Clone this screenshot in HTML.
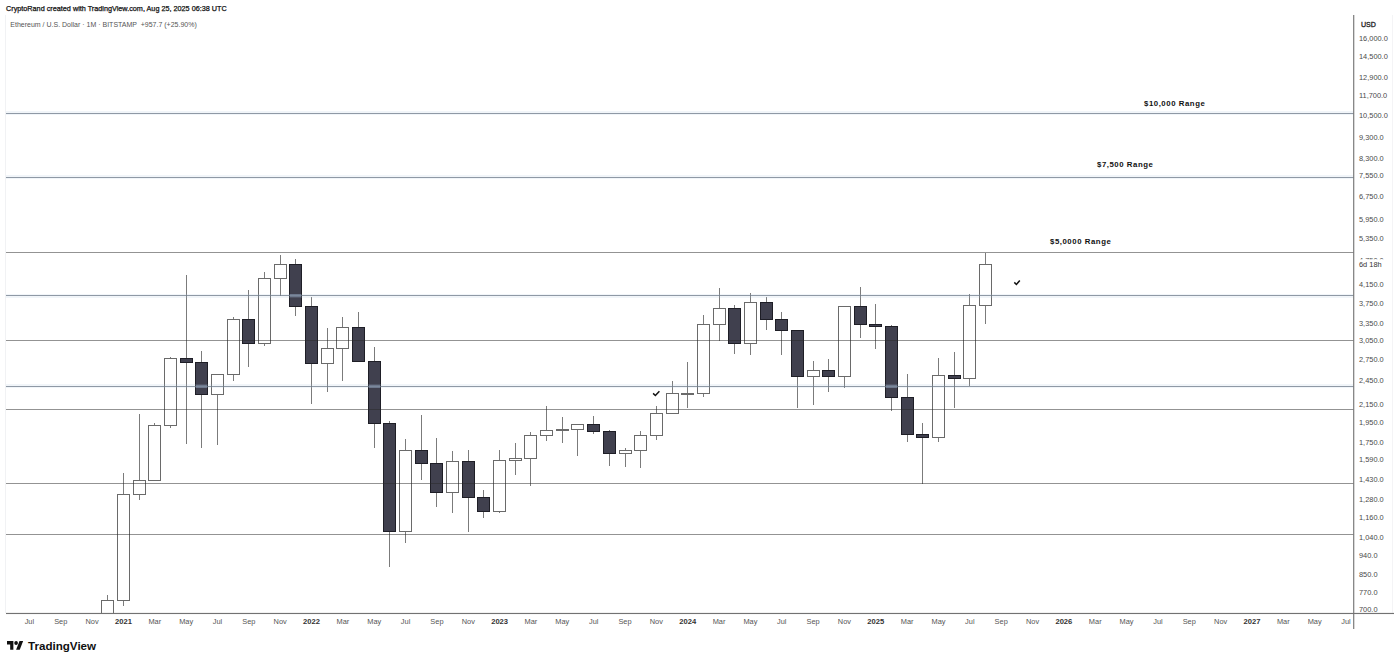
<!DOCTYPE html>
<html><head><meta charset="utf-8"><style>
html,body{margin:0;padding:0;background:#fff;width:1400px;height:663px;overflow:hidden;position:relative}
text{font-family:"Liberation Sans",Arial,sans-serif}
.pl{font-size:7.4px;fill:#4a4a4a}
.cd{fill:#333}
.usd{font-size:7.1px;fill:#222;stroke:#222;stroke-width:0.3px}
.tm{font-size:7.4px;fill:#555;text-anchor:middle}
.ty{font-size:7.6px;fill:#333;text-anchor:middle;font-weight:bold}
.rg{font-size:7.8px;fill:#111;font-weight:bold;letter-spacing:0.55px}
.logo{font-size:11.6px;fill:#111;font-weight:bold}
.hd{font-size:7.25px;fill:#111;stroke:#111;stroke-width:0.25px}
.sub{font-size:7.0px;fill:#555;white-space:pre}
</style></head><body>
<svg width="1400" height="663" viewBox="0 0 1400 663" style="position:absolute;left:0;top:0">
<rect x="5" y="15" width="1" height="598" fill="#f1f2f4"/>
<rect x="1392" y="15" width="1" height="598" fill="#f4f4f6"/>
<defs><clipPath id="cc"><rect x="6" y="15" width="1348" height="598"/></clipPath></defs>
<g shape-rendering="crispEdges" clip-path="url(#cc)">
<line x1="107.5" y1="594.96" x2="107.5" y2="658.89" stroke="#7b7b7b" stroke-width="1"/>
<rect x="101.5" y="600.09" width="12" height="33.32" fill="#fff" stroke="#6a6a6a" stroke-width="1"/>
<line x1="123.5" y1="473.47" x2="123.5" y2="605.88" stroke="#7b7b7b" stroke-width="1"/>
<rect x="117.5" y="494.84" width="12" height="105.25" fill="#fff" stroke="#6a6a6a" stroke-width="1"/>
<line x1="139.5" y1="414.19" x2="139.5" y2="500.06" stroke="#7b7b7b" stroke-width="1"/>
<rect x="133.5" y="480.79" width="12" height="14.05" fill="#fff" stroke="#6a6a6a" stroke-width="1"/>
<line x1="154.5" y1="422.52" x2="154.5" y2="480.79" stroke="#7b7b7b" stroke-width="1"/>
<rect x="148.5" y="425.54" width="12" height="55.25" fill="#fff" stroke="#6a6a6a" stroke-width="1"/>
<line x1="170.5" y1="356.69" x2="170.5" y2="428.22" stroke="#7b7b7b" stroke-width="1"/>
<rect x="164.5" y="358.26" width="12" height="67.28" fill="#fff" stroke="#6a6a6a" stroke-width="1"/>
<line x1="186.5" y1="274.84" x2="186.5" y2="444.37" stroke="#7b7b7b" stroke-width="1"/>
<rect x="180.5" y="358.26" width="12" height="4.46" fill="#40404e" stroke="#1e1e26" stroke-width="1"/>
<line x1="201.5" y1="350.72" x2="201.5" y2="447.56" stroke="#7b7b7b" stroke-width="1"/>
<rect x="195.5" y="362.72" width="12" height="31.66" fill="#40404e" stroke="#1e1e26" stroke-width="1"/>
<line x1="217.5" y1="373.56" x2="217.5" y2="445.42" stroke="#7b7b7b" stroke-width="1"/>
<rect x="211.5" y="374.93" width="12" height="19.46" fill="#fff" stroke="#6a6a6a" stroke-width="1"/>
<line x1="233.5" y1="317.34" x2="233.5" y2="380.86" stroke="#7b7b7b" stroke-width="1"/>
<rect x="227.5" y="319.46" width="12" height="55.47" fill="#fff" stroke="#6a6a6a" stroke-width="1"/>
<line x1="248.5" y1="290.04" x2="248.5" y2="366.54" stroke="#7b7b7b" stroke-width="1"/>
<rect x="242.5" y="319.46" width="12" height="24.45" fill="#40404e" stroke="#1e1e26" stroke-width="1"/>
<line x1="264.5" y1="271.53" x2="264.5" y2="345.73" stroke="#7b7b7b" stroke-width="1"/>
<rect x="258.5" y="278.71" width="12" height="65.19" fill="#fff" stroke="#6a6a6a" stroke-width="1"/>
<line x1="280.5" y1="255.48" x2="280.5" y2="295.55" stroke="#7b7b7b" stroke-width="1"/>
<rect x="274.5" y="264.71" width="12" height="14" fill="#fff" stroke="#6a6a6a" stroke-width="1"/>
<line x1="295.5" y1="259" x2="295.5" y2="315.77" stroke="#7b7b7b" stroke-width="1"/>
<rect x="289.5" y="264.71" width="12" height="41.91" fill="#40404e" stroke="#1e1e26" stroke-width="1"/>
<line x1="311.5" y1="296.96" x2="311.5" y2="403.68" stroke="#7b7b7b" stroke-width="1"/>
<rect x="305.5" y="306.62" width="12" height="57.33" fill="#40404e" stroke="#1e1e26" stroke-width="1"/>
<line x1="327.5" y1="327.89" x2="327.5" y2="392.23" stroke="#7b7b7b" stroke-width="1"/>
<rect x="321.5" y="348.83" width="12" height="15.11" fill="#fff" stroke="#6a6a6a" stroke-width="1"/>
<line x1="342.5" y1="316.76" x2="342.5" y2="380.64" stroke="#7b7b7b" stroke-width="1"/>
<rect x="336.5" y="327.62" width="12" height="21.22" fill="#fff" stroke="#6a6a6a" stroke-width="1"/>
<line x1="358.5" y1="311.64" x2="358.5" y2="362.45" stroke="#7b7b7b" stroke-width="1"/>
<rect x="352.5" y="327.62" width="12" height="33.7" fill="#40404e" stroke="#1e1e26" stroke-width="1"/>
<line x1="374.5" y1="346.66" x2="374.5" y2="447.88" stroke="#7b7b7b" stroke-width="1"/>
<rect x="368.5" y="361.31" width="12" height="62.05" fill="#40404e" stroke="#1e1e26" stroke-width="1"/>
<line x1="389.5" y1="420.66" x2="389.5" y2="567.11" stroke="#7b7b7b" stroke-width="1"/>
<rect x="383.5" y="423.36" width="12" height="108.18" fill="#40404e" stroke="#1e1e26" stroke-width="1"/>
<line x1="405.5" y1="438.65" x2="405.5" y2="542.94" stroke="#7b7b7b" stroke-width="1"/>
<rect x="399.5" y="450.04" width="12" height="81.5" fill="#fff" stroke="#6a6a6a" stroke-width="1"/>
<line x1="421.5" y1="414.82" x2="421.5" y2="479.63" stroke="#7b7b7b" stroke-width="1"/>
<rect x="415.5" y="450.04" width="12" height="13.67" fill="#40404e" stroke="#1e1e26" stroke-width="1"/>
<line x1="436.5" y1="438.14" x2="436.5" y2="506.91" stroke="#7b7b7b" stroke-width="1"/>
<rect x="430.5" y="463.71" width="12" height="28.5" fill="#40404e" stroke="#1e1e26" stroke-width="1"/>
<line x1="452.5" y1="451.35" x2="452.5" y2="512.65" stroke="#7b7b7b" stroke-width="1"/>
<rect x="446.5" y="461.96" width="12" height="30.26" fill="#fff" stroke="#6a6a6a" stroke-width="1"/>
<line x1="468.5" y1="450.04" x2="468.5" y2="531.54" stroke="#7b7b7b" stroke-width="1"/>
<rect x="462.5" y="461.96" width="12" height="35.12" fill="#40404e" stroke="#1e1e26" stroke-width="1"/>
<line x1="483.5" y1="489.63" x2="483.5" y2="518.1" stroke="#7b7b7b" stroke-width="1"/>
<rect x="477.5" y="497.08" width="12" height="14.5" fill="#40404e" stroke="#1e1e26" stroke-width="1"/>
<line x1="499.5" y1="449.61" x2="499.5" y2="512.65" stroke="#7b7b7b" stroke-width="1"/>
<rect x="493.5" y="460.34" width="12" height="51.24" fill="#fff" stroke="#6a6a6a" stroke-width="1"/>
<line x1="515.5" y1="442.89" x2="515.5" y2="474.71" stroke="#7b7b7b" stroke-width="1"/>
<rect x="509.5" y="458.05" width="12" height="2.29" fill="#fff" stroke="#6a6a6a" stroke-width="1"/>
<line x1="530.5" y1="431.63" x2="530.5" y2="486.28" stroke="#7b7b7b" stroke-width="1"/>
<rect x="524.5" y="435.01" width="12" height="23.04" fill="#fff" stroke="#6a6a6a" stroke-width="1"/>
<line x1="546.5" y1="405.98" x2="546.5" y2="440.71" stroke="#7b7b7b" stroke-width="1"/>
<rect x="540.5" y="430.16" width="12" height="4.85" fill="#fff" stroke="#6a6a6a" stroke-width="1"/>
<line x1="562.5" y1="416.53" x2="562.5" y2="443.31" stroke="#7b7b7b" stroke-width="1"/>
<rect x="556.5" y="429.68" width="12" height="1" fill="#fff" stroke="#6a6a6a" stroke-width="1"/>
<line x1="577.5" y1="423.93" x2="577.5" y2="455.9" stroke="#7b7b7b" stroke-width="1"/>
<rect x="571.5" y="424.12" width="12" height="5.56" fill="#fff" stroke="#6a6a6a" stroke-width="1"/>
<line x1="593.5" y1="415.63" x2="593.5" y2="434.31" stroke="#7b7b7b" stroke-width="1"/>
<rect x="587.5" y="424.12" width="12" height="7.52" fill="#40404e" stroke="#1e1e26" stroke-width="1"/>
<line x1="609.5" y1="429.68" x2="609.5" y2="465.6" stroke="#7b7b7b" stroke-width="1"/>
<rect x="603.5" y="431.63" width="12" height="21.93" fill="#40404e" stroke="#1e1e26" stroke-width="1"/>
<line x1="625.5" y1="447.56" x2="625.5" y2="466.55" stroke="#7b7b7b" stroke-width="1"/>
<rect x="619.5" y="450.7" width="12" height="2.86" fill="#fff" stroke="#6a6a6a" stroke-width="1"/>
<line x1="640.5" y1="430.65" x2="640.5" y2="467.98" stroke="#7b7b7b" stroke-width="1"/>
<rect x="634.5" y="435.61" width="12" height="15.09" fill="#fff" stroke="#6a6a6a" stroke-width="1"/>
<line x1="656.5" y1="406.41" x2="656.5" y2="439.68" stroke="#7b7b7b" stroke-width="1"/>
<rect x="650.5" y="413.39" width="12" height="22.22" fill="#fff" stroke="#6a6a6a" stroke-width="1"/>
<line x1="672.5" y1="381.23" x2="672.5" y2="414.28" stroke="#7b7b7b" stroke-width="1"/>
<rect x="666.5" y="393.83" width="12" height="19.57" fill="#fff" stroke="#6a6a6a" stroke-width="1"/>
<line x1="687.5" y1="362.19" x2="687.5" y2="408.13" stroke="#7b7b7b" stroke-width="1"/>
<rect x="681.5" y="393.75" width="12" height="1" fill="#fff" stroke="#6a6a6a" stroke-width="1"/>
<line x1="703.5" y1="315.4" x2="703.5" y2="396.81" stroke="#7b7b7b" stroke-width="1"/>
<rect x="697.5" y="324.31" width="12" height="69.44" fill="#fff" stroke="#6a6a6a" stroke-width="1"/>
<line x1="719.5" y1="288.14" x2="719.5" y2="340.53" stroke="#7b7b7b" stroke-width="1"/>
<rect x="713.5" y="308.36" width="12" height="15.95" fill="#fff" stroke="#6a6a6a" stroke-width="1"/>
<line x1="734.5" y1="304.84" x2="734.5" y2="353.52" stroke="#7b7b7b" stroke-width="1"/>
<rect x="728.5" y="308.36" width="12" height="34.99" fill="#40404e" stroke="#1e1e26" stroke-width="1"/>
<line x1="750.5" y1="292.68" x2="750.5" y2="355.32" stroke="#7b7b7b" stroke-width="1"/>
<rect x="744.5" y="302.69" width="12" height="40.66" fill="#fff" stroke="#6a6a6a" stroke-width="1"/>
<line x1="766.5" y1="296.68" x2="766.5" y2="330.48" stroke="#7b7b7b" stroke-width="1"/>
<rect x="760.5" y="302.69" width="12" height="16.45" fill="#40404e" stroke="#1e1e26" stroke-width="1"/>
<line x1="781.5" y1="312.31" x2="781.5" y2="355.32" stroke="#7b7b7b" stroke-width="1"/>
<rect x="775.5" y="319.14" width="12" height="11.17" fill="#40404e" stroke="#1e1e26" stroke-width="1"/>
<line x1="797.5" y1="329.86" x2="797.5" y2="407.61" stroke="#7b7b7b" stroke-width="1"/>
<rect x="791.5" y="330.31" width="12" height="45.85" fill="#40404e" stroke="#1e1e26" stroke-width="1"/>
<line x1="813.5" y1="361.38" x2="813.5" y2="405.04" stroke="#7b7b7b" stroke-width="1"/>
<rect x="807.5" y="370.02" width="12" height="6.14" fill="#fff" stroke="#6a6a6a" stroke-width="1"/>
<line x1="828.5" y1="359.12" x2="828.5" y2="391.52" stroke="#7b7b7b" stroke-width="1"/>
<rect x="822.5" y="370.02" width="12" height="6.07" fill="#40404e" stroke="#1e1e26" stroke-width="1"/>
<line x1="844.5" y1="305.63" x2="844.5" y2="387.69" stroke="#7b7b7b" stroke-width="1"/>
<rect x="838.5" y="306.12" width="12" height="69.96" fill="#fff" stroke="#6a6a6a" stroke-width="1"/>
<line x1="860.5" y1="287.34" x2="860.5" y2="337.92" stroke="#7b7b7b" stroke-width="1"/>
<rect x="854.5" y="306.12" width="12" height="18.62" fill="#40404e" stroke="#1e1e26" stroke-width="1"/>
<line x1="875.5" y1="303.91" x2="875.5" y2="349.46" stroke="#7b7b7b" stroke-width="1"/>
<rect x="869.5" y="324.75" width="12" height="1.76" fill="#40404e" stroke="#1e1e26" stroke-width="1"/>
<line x1="891.5" y1="325.4" x2="891.5" y2="410.74" stroke="#7b7b7b" stroke-width="1"/>
<rect x="885.5" y="326.51" width="12" height="71.04" fill="#40404e" stroke="#1e1e26" stroke-width="1"/>
<line x1="907.5" y1="373.56" x2="907.5" y2="441.75" stroke="#7b7b7b" stroke-width="1"/>
<rect x="901.5" y="397.54" width="12" height="36.97" fill="#40404e" stroke="#1e1e26" stroke-width="1"/>
<line x1="922.5" y1="422.71" x2="922.5" y2="484.3" stroke="#7b7b7b" stroke-width="1"/>
<rect x="916.5" y="434.51" width="12" height="3.23" fill="#40404e" stroke="#1e1e26" stroke-width="1"/>
<line x1="938.5" y1="358.46" x2="938.5" y2="441.75" stroke="#7b7b7b" stroke-width="1"/>
<rect x="932.5" y="375" width="12" height="62.74" fill="#fff" stroke="#6a6a6a" stroke-width="1"/>
<line x1="954.5" y1="351.99" x2="954.5" y2="407.69" stroke="#7b7b7b" stroke-width="1"/>
<rect x="948.5" y="375" width="12" height="3.2" fill="#40404e" stroke="#1e1e26" stroke-width="1"/>
<line x1="969.5" y1="294.16" x2="969.5" y2="386.15" stroke="#7b7b7b" stroke-width="1"/>
<rect x="963.5" y="305.77" width="12" height="72.42" fill="#fff" stroke="#6a6a6a" stroke-width="1"/>
<line x1="985.5" y1="252.51" x2="985.5" y2="323.71" stroke="#7b7b7b" stroke-width="1"/>
<rect x="979.5" y="264.31" width="12" height="41.46" fill="#fff" stroke="#6a6a6a" stroke-width="1"/>
<rect x="6" y="111" width="1348" height="4" fill="rgba(165,190,215,0.16)"/>
<rect x="6" y="112.5" width="1348" height="1" fill="rgba(110,122,136,0.75)"/>
<rect x="6" y="175" width="1348" height="4" fill="rgba(165,190,215,0.16)"/>
<rect x="6" y="176.5" width="1348" height="1" fill="rgba(110,122,136,0.75)"/>
<rect x="6" y="251.5" width="1348" height="1" fill="rgba(40,40,40,0.5)"/>
<rect x="6" y="293.5" width="1348" height="4" fill="rgba(165,190,215,0.16)"/>
<rect x="6" y="295" width="1348" height="1" fill="rgba(110,122,136,0.75)"/>
<rect x="6" y="339.5" width="1348" height="1" fill="rgba(40,40,40,0.5)"/>
<rect x="6" y="384" width="1348" height="4" fill="rgba(165,190,215,0.16)"/>
<rect x="6" y="385.5" width="1348" height="1" fill="rgba(110,122,136,0.75)"/>
<rect x="6" y="409" width="1348" height="1" fill="rgba(40,40,40,0.5)"/>
<rect x="6" y="482.5" width="1348" height="1" fill="rgba(40,40,40,0.5)"/>
<rect x="6" y="533.5" width="1348" height="1" fill="rgba(40,40,40,0.5)"/>
<rect x="290" y="294" width="11" height="3" fill="rgba(150,170,195,0.42)"/>
<rect x="196" y="384.5" width="11" height="3" fill="rgba(150,170,195,0.42)"/>
<rect x="369" y="384.5" width="11" height="3" fill="rgba(150,170,195,0.42)"/>
<rect x="886" y="384.5" width="11" height="3" fill="rgba(150,170,195,0.42)"/>
</g>
<rect x="1353.1" y="15" width="1.2" height="614" fill="#7c7c7c"/>
<rect x="6" y="612.9" width="1388" height="1.15" fill="#727272"/>
<text x="1361" y="27.3" class="usd">USD</text>
<text x="1359" y="41" class="pl">16,000.0</text>
<text x="1359" y="58.97" class="pl">14,500.0</text>
<text x="1359" y="80.3" class="pl">12,900.0</text>
<text x="1359" y="98.12" class="pl">11,700.0</text>
<text x="1359" y="117.87" class="pl">10,500.0</text>
<text x="1359" y="140.02" class="pl">9,300.0</text>
<text x="1359" y="160.78" class="pl">8,300.0</text>
<text x="1359" y="178.07" class="pl">7,550.0</text>
<text x="1359" y="198.51" class="pl">6,750.0</text>
<text x="1359" y="221.53" class="pl">5,950.0</text>
<text x="1359" y="240.93" class="pl">5,350.0</text>
<text x="1359" y="262.64" class="pl">4,750.0</text>
<text x="1359" y="287.28" class="pl">4,150.0</text>
<text x="1359" y="305.78" class="pl">3,750.0</text>
<text x="1359" y="326.36" class="pl">3,350.0</text>
<text x="1359" y="343.48" class="pl">3,050.0</text>
<text x="1359" y="362.38" class="pl">2,750.0</text>
<text x="1359" y="383.46" class="pl">2,450.0</text>
<text x="1359" y="407.3" class="pl">2,150.0</text>
<text x="1359" y="425.12" class="pl">1,950.0</text>
<text x="1359" y="444.87" class="pl">1,750.0</text>
<text x="1359" y="462.37" class="pl">1,590.0</text>
<text x="1359" y="481.72" class="pl">1,430.0</text>
<text x="1359" y="501.95" class="pl">1,280.0</text>
<text x="1359" y="519.91" class="pl">1,160.0</text>
<text x="1359" y="539.84" class="pl">1,040.0</text>
<text x="1359" y="558.29" class="pl">940.0</text>
<text x="1359" y="576.66" class="pl">850.0</text>
<text x="1359" y="594.7" class="pl">770.0</text>
<text x="1359" y="612.09" class="pl">700.0</text>
<rect x="1356" y="259.3" width="34" height="12" fill="#fff"/>
<text x="1359" y="266.9" class="pl cd">6d 18h</text>
<text x="29.41" y="624" class="tm">Jul</text>
<text x="60.75" y="624" class="tm">Sep</text>
<text x="92.1" y="624" class="tm">Nov</text>
<text x="123.45" y="624" class="ty">2021</text>
<text x="154.8" y="624" class="tm">Mar</text>
<text x="186.15" y="624" class="tm">May</text>
<text x="217.49" y="624" class="tm">Jul</text>
<text x="248.84" y="624" class="tm">Sep</text>
<text x="280.19" y="624" class="tm">Nov</text>
<text x="311.54" y="624" class="ty">2022</text>
<text x="342.89" y="624" class="tm">Mar</text>
<text x="374.23" y="624" class="tm">May</text>
<text x="405.58" y="624" class="tm">Jul</text>
<text x="436.93" y="624" class="tm">Sep</text>
<text x="468.28" y="624" class="tm">Nov</text>
<text x="499.63" y="624" class="ty">2023</text>
<text x="530.97" y="624" class="tm">Mar</text>
<text x="562.32" y="624" class="tm">May</text>
<text x="593.67" y="624" class="tm">Jul</text>
<text x="625.02" y="624" class="tm">Sep</text>
<text x="656.37" y="624" class="tm">Nov</text>
<text x="687.71" y="624" class="ty">2024</text>
<text x="719.06" y="624" class="tm">Mar</text>
<text x="750.41" y="624" class="tm">May</text>
<text x="781.76" y="624" class="tm">Jul</text>
<text x="813.11" y="624" class="tm">Sep</text>
<text x="844.45" y="624" class="tm">Nov</text>
<text x="875.8" y="624" class="ty">2025</text>
<text x="907.15" y="624" class="tm">Mar</text>
<text x="938.5" y="624" class="tm">May</text>
<text x="969.85" y="624" class="tm">Jul</text>
<text x="1001.19" y="624" class="tm">Sep</text>
<text x="1032.54" y="624" class="tm">Nov</text>
<text x="1063.89" y="624" class="ty">2026</text>
<text x="1095.24" y="624" class="tm">Mar</text>
<text x="1126.59" y="624" class="tm">May</text>
<text x="1157.93" y="624" class="tm">Jul</text>
<text x="1189.28" y="624" class="tm">Sep</text>
<text x="1220.63" y="624" class="tm">Nov</text>
<text x="1251.98" y="624" class="ty">2027</text>
<text x="1283.33" y="624" class="tm">Mar</text>
<text x="1314.67" y="624" class="tm">May</text>
<text x="1346.02" y="624" class="tm">Jul</text>
<text x="1144" y="105.7" class="rg">$10,000 Range</text>
<text x="1097" y="167.3" class="rg">$7,500 Range</text>
<text x="1050" y="244.4" class="rg">$5,0000 Range</text>
<path d="M653.1 393.4 l2.3 2.1 l4 -4.2" fill="none" stroke="#111" stroke-width="1.5"/>
<path d="M1014.3 282.4 l2.1 2.1 l3.4 -4.1" fill="none" stroke="#111" stroke-width="1.5"/>
<g transform="translate(7,639.2) scale(0.455,0.478)" fill="#111"><path d="M14 22H7V11H0V4h14v18zM28 22h-8l7.5-18h8L28 22z"/><circle cx="20" cy="8" r="4"/></g>
<text x="28" y="649.7" class="logo">TradingView</text>
<text x="6" y="11.1" class="hd">CryptoRand created with TradingView.com, Aug 25, 2025 06:38 UTC</text>
<text x="10.3" y="26.6" class="sub">Ethereum / U.S. Dollar · 1M · BITSTAMP  <tspan>+957.7 (+25.90%)</tspan></text>
</svg>
</body></html>
